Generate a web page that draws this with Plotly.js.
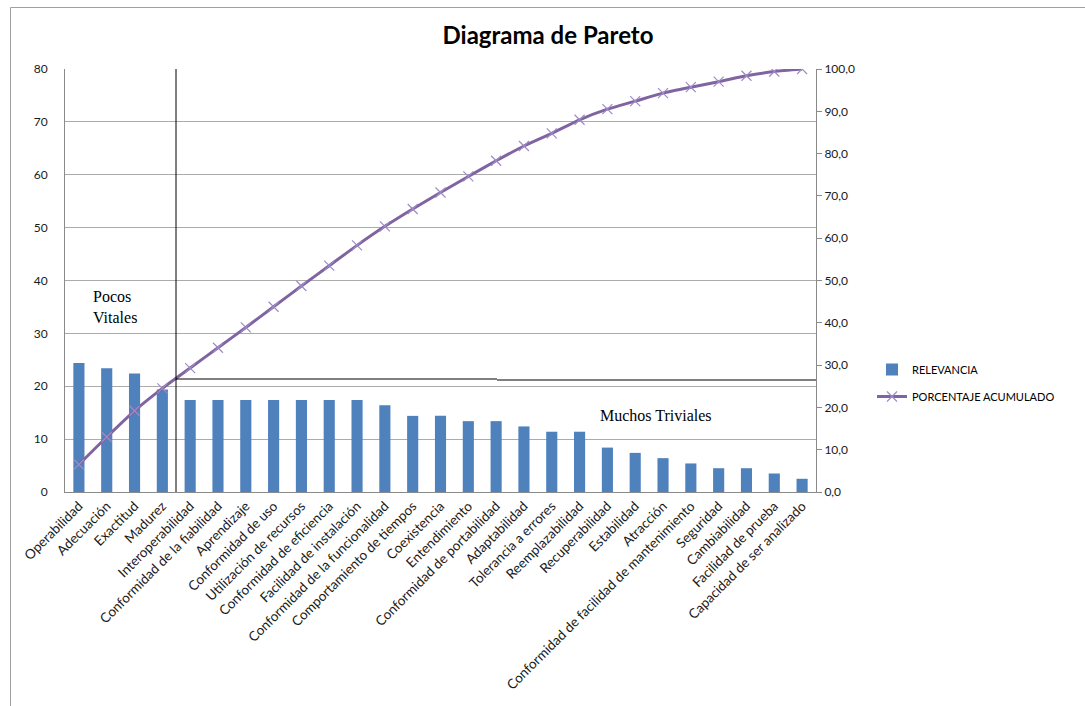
<!DOCTYPE html>
<html>
<head>
<meta charset="utf-8">
<script src="https://cdn.plot.ly/plotly-3.0.1.min.js"></script>
<style>html,body{margin:0;padding:0;background:#fff;}#chart{width:1085px;height:706px;}</style>
</head>
<body>
<div id="chart"></div>
<script>
const categories = [
  "Operabilidad", "Adecuación", "Exactitud", "Madurez", "Interoperabilidad",
  "Conformidad de la fiabilidad", "Aprendizaje", "Conformidad de uso",
  "Utilización de recursos", "Conformidad de eficiencia", "Facilidad de instalación",
  "Conformidad de la funcionalidad", "Comportamiento de tiempos", "Coexistencia",
  "Entendimiento", "Conformidad de portabilidad", "Adaptabilidad", "Tolerancia a errores",
  "Reemplazabilidad", "Recuperabilidad", "Estabilidad", "Atracción",
  "Conformidad de facilidad de mantenimiento", "Seguridad", "Cambiabilidad",
  "Facilidad de prueba", "Capacidad de ser analizado"
];
const relevancia = [
  24.4, 23.4, 22.4, 19.4, 17.4, 17.4, 17.4, 17.4, 17.4, 17.4, 17.4,
  16.4, 14.4, 14.4, 13.4, 13.4, 12.4, 11.4, 11.4, 8.4, 7.4, 6.4,
  5.4, 4.5, 4.5, 3.5, 2.5
];
const porcentajeAcumulado = [
  6.5, 13.0, 19.2, 24.5, 29.3, 34.1, 38.9, 43.8, 48.7, 53.5, 58.3,
  62.8, 66.9, 70.8, 74.6, 78.3, 81.8, 84.8, 88.0, 90.5, 92.4, 94.3,
  95.7, 97.0, 98.4, 99.4, 100.0
];
const leftTicks = [0, 10, 20, 30, 40, 50, 60, 70, 80];
const rightTicks = [0, 10, 20, 30, 40, 50, 60, 70, 80, 90, 100];

const L = 65, R = 816, T = 69, B = 492;
const W = R - L, H = B - T;
const px = v => (v - L) / W;
const py = v => (B - v) / H;

const fam = "Lato, 'Open Sans', sans-serif";
const yTickFont = {family: fam, size: 12, color: "#1a1a1a"};
const xTickFont = {family: fam, size: 13.5, color: "#1a1a1a"};

const traces = [
  {
    type: "bar", name: "RELEVANCIA", x: categories, y: relevancia,
    marker: {color: "#4f81bd"}, legendgroup: "a", hoverinfo: "x+y"
  },
  {
    type: "scatter", mode: "lines+markers", name: "PORCENTAJE ACUMULADO",
    x: categories, y: porcentajeAcumulado, yaxis: "y2", legendgroup: "b",
    line: {color: "#8064a2", width: 3, shape: "spline", smoothing: 0.6},
    marker: {symbol: "x-thin", size: 10, color: "#9d8bc4", line: {color: "#9d8bc4", width: 1.2}}
  }
];

const layout = {
  width: 1085, height: 706,
  margin: {l: L, r: 1085 - R, t: T, b: 706 - B, pad: 0},
  paper_bgcolor: "#ffffff", plot_bgcolor: "#ffffff",
  separators: ",.",
  bargap: 0.6,
  showlegend: true,
  title: {
    text: "<b>Diagrama de Pareto</b>",
    font: {family: fam, size: 24, color: "#000"},
    x: px(548), xref: "paper", xanchor: "center",
    y: 1 - 36 / 706, yref: "container", yanchor: "middle"
  },
  xaxis: {
    type: "category", range: [-0.5, categories.length - 0.5], autorange: false,
    tickangle: -45, tickfont: xTickFont,
    showline: true, linecolor: "#8a8a8a", linewidth: 1,
    showgrid: false, ticks: "", automargin: false
  },
  yaxis: {
    range: [0, 80], tickvals: leftTicks, tickfont: yTickFont,
    showgrid: true, gridcolor: "#ababab", gridwidth: 1,
    showline: true, linecolor: "#8a8a8a", linewidth: 1, zeroline: false,
    ticks: "", ticklabelstandoff: 14, automargin: false
  },
  yaxis2: {
    range: [0, 100], tickvals: rightTicks, tickformat: ".1f", tickfont: yTickFont,
    overlaying: "y", side: "right", showgrid: false, zeroline: false,
    showline: true, linecolor: "#8a8a8a", linewidth: 1,
    ticks: "outside", ticklen: 5, tickcolor: "#8a8a8a", automargin: false
  },
  legend: {
    x: px(872), xanchor: "left", y: py(355), yanchor: "top",
    font: {family: fam, size: 11, color: "#000"},
    traceorder: "grouped", tracegroupgap: 8, bgcolor: "rgba(0,0,0,0)"
  },
  shapes: [
    {type: "rect", xref: "paper", yref: "paper", x0: px(10.5), x1: 2, y0: -2, y1: py(7.5),
     line: {color: "#a0a0a0", width: 1}, fillcolor: "rgba(0,0,0,0)", layer: "below"},
    {type: "line", xref: "paper", yref: "paper", x0: px(176), x1: px(176), y0: 0, y1: 1,
     line: {color: "#000", width: 1}},
    {type: "line", xref: "paper", yref: "paper", x0: px(176), x1: px(497), y0: py(379), y1: py(379),
     line: {color: "#000", width: 1}},
    {type: "line", xref: "paper", yref: "paper", x0: px(497), x1: 1, y0: py(380), y1: py(380),
     line: {color: "#000", width: 1}}
  ],
  annotations: [
    {xref: "paper", yref: "paper", x: px(115), y: py(307), xanchor: "center", yanchor: "middle",
     text: "Pocos<br>Vitales", showarrow: false, align: "left",
     font: {family: "'Liberation Serif', 'Times New Roman', serif", size: 16, color: "#000"}},
    {xref: "paper", yref: "paper", x: px(656), y: py(415), xanchor: "center", yanchor: "middle",
     text: "Muchos Triviales", showarrow: false,
     font: {family: "'Liberation Serif', 'Times New Roman', serif", size: 16, color: "#000"}}
  ]
};

Plotly.newPlot("chart", traces, layout, {displayModeBar: false, staticPlot: true});
</script>
</body>
</html>
